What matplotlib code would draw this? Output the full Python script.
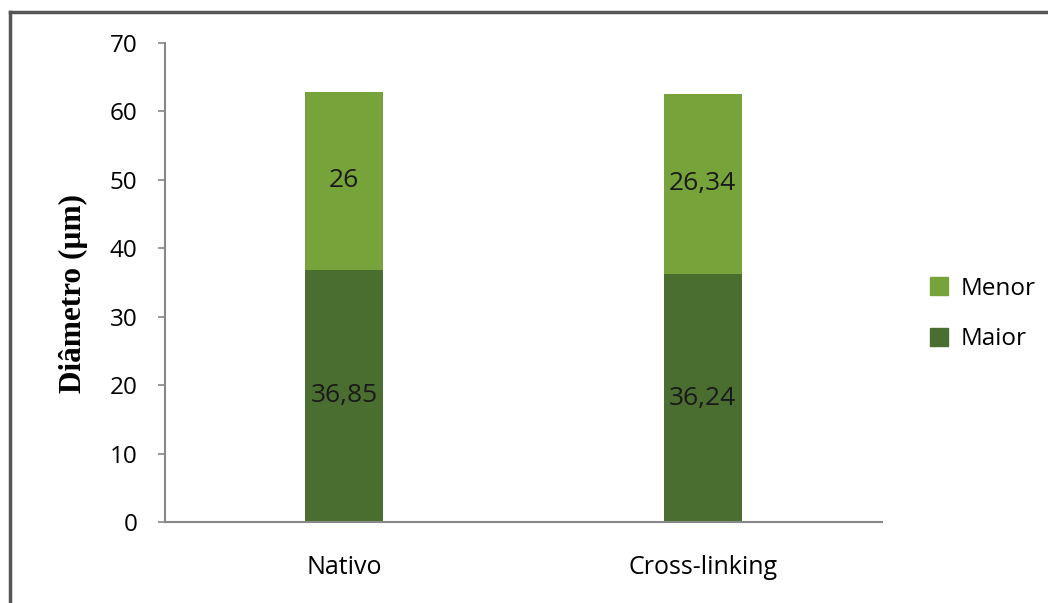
import matplotlib
matplotlib.use("Agg")
import matplotlib.pyplot as plt
from matplotlib.lines import Line2D
from matplotlib.patches import Patch

categories = ["Nativo", "Cross-linking"]
maior = [36.85, 36.24]
menor = [26, 26.34]
maior_labels = ["36,85", "36,24"]
menor_labels = ["26", "26,34"]
yticks = [0, 10, 20, 30, 40, 50, 60, 70]

c_menor = "#77A43A"
c_maior = "#4A6E2F"
fnt = "Open Sans"

fig = plt.figure(figsize=(10.48, 6.03), dpi=100)
ax = fig.add_axes([165/1048, 1-522/603, (882-165)/1048, (522-43)/603])

x = list(range(len(categories)))
w = 0.218
ax.bar(x, maior, width=w, color=c_maior, label="Maior")
ax.bar(x, menor, width=w, bottom=maior, color=c_menor, label="Menor")

for xi, m, n, ml, nl in zip(x, maior, menor, maior_labels, menor_labels):
    ax.text(xi, m/2, ml, ha="center", va="center", fontsize=19, family=fnt, color="#1a1a1a")
    ax.text(xi, m + n/2, nl, ha="center", va="center", fontsize=19, family=fnt, color="#1a1a1a")

ax.set_xlim(-0.5, 1.5)
ax.set_ylim(0, 70)
ax.set_yticks(yticks)
ax.set_yticklabels([str(t) for t in yticks], family=fnt, fontsize=17.5)
ax.set_xticks(x)
ax.set_xticklabels(categories, family=fnt, fontsize=18)
ax.tick_params(axis="x", length=0, pad=24)
ax.tick_params(axis="y", length=5, pad=15, color="#888888", width=1.2)
for s in ["top", "right"]:
    ax.spines[s].set_visible(False)
for s in ["left", "bottom"]:
    ax.spines[s].set_color("#888888")
    ax.spines[s].set_linewidth(1.5)

ax.set_ylabel("Diâmetro (µm)", family="Liberation Serif", fontweight="bold", fontsize=22.5)
ax.yaxis.set_label_coords(-0.108, 0.478)

handles = [Patch(color=c_menor, label="Menor"), Patch(color=c_maior, label="Maior")]
fig.legend(handles=handles, loc="center left", bbox_to_anchor=(908/1048, 1-314/603),
           frameon=False, prop={"family": fnt, "size": 17.5}, handlelength=0.75,
           handleheight=0.75, handletextpad=0.5, labelspacing=1.1)

fig.add_artist(Line2D([10/1048, 1.0], [1-12/603, 1-12/603], color="#555555", lw=2.5, transform=fig.transFigure))
fig.add_artist(Line2D([10/1048, 10/1048], [0, 1-12/603], color="#555555", lw=2.5, transform=fig.transFigure))

fig.savefig("out.png", dpi=100)
